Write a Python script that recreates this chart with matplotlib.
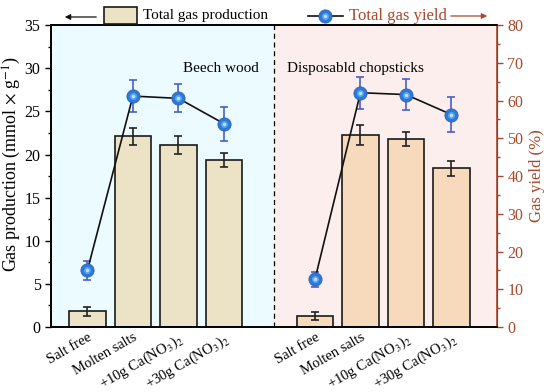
import matplotlib
matplotlib.use("Agg")
import matplotlib.pyplot as plt
import matplotlib.transforms as mtransforms
from matplotlib.patches import Rectangle
from matplotlib.lines import Line2D
from matplotlib.ticker import MultipleLocator

plt.rcParams['font.family'] = ['Liberation Serif', 'DejaVu Serif']
plt.rcParams['mathtext.fontset'] = 'stix'

# data
labels = ['Salt free', 'Molten salts', '+10g Ca(NO$_3$)$_2$', '+30g Ca(NO$_3$)$_2$']
pos_beech = [1, 2, 3, 4]
pos_chop = [6, 7, 8, 9]
prod_beech = [1.8, 22.1, 21.1, 19.4]
prod_beech_err = [0.55, 0.95, 1.0, 0.8]
prod_chop = [1.25, 22.25, 21.8, 18.4]
prod_chop_err = [0.45, 1.15, 0.8, 0.9]
yield_beech = [15.0, 61.2, 60.6, 53.9]
yield_beech_err = [2.6, 4.2, 3.7, 4.5]
yield_chop = [12.6, 62.1, 61.6, 56.3]
yield_chop_err = [2.0, 4.2, 4.2, 4.6]

brown = '#a8482c'
beige = '#ece3c6'
peach = '#f7d9bb'

fig = plt.figure(figsize=(5.5, 3.92), dpi=100)
ax = fig.add_axes([0.0927, 0.1658, 0.8109, 0.770])
ax2 = ax.twinx()

ax.set_xlim(0.2, 10.0)
ax.axvspan(0.2, 5.1, color='#ebfbff', zorder=0)
ax.axvspan(5.1, 10.0, color='#fdeeee', zorder=0)
ax.axvline(5.1, color='black', ls=(0, (4, 3)), lw=0.9, zorder=1)

ebar = dict(ecolor='#222222', elinewidth=1.2, capsize=3, capthick=1.2)
ax.bar(pos_beech, prod_beech, 0.8, yerr=prod_beech_err, color=beige,
       edgecolor='#1a1a1a', linewidth=1.2, error_kw=ebar, zorder=2)
ax.bar(pos_chop, prod_chop, 0.8, yerr=prod_chop_err, color=peach,
       edgecolor='#1a1a1a', linewidth=1.2, error_kw=ebar, zorder=2)

ax.set_ylim(0, 35)
ax.yaxis.set_major_locator(MultipleLocator(5))
ax.yaxis.set_minor_locator(MultipleLocator(2.5))
ax.set_ylabel('Gas production (mmol $\\times$ g$^{-1}$)', fontsize=13)
ax.yaxis.set_label_coords(-0.062, 0.54)
ax.set_xticks(pos_beech + pos_chop)
ax.set_xticklabels(labels + labels, rotation=30, ha='right', rotation_mode='anchor', fontsize=10.5)
shift = mtransforms.ScaledTranslation(10 / 72, 0, fig.dpi_scale_trans)
for t in ax.get_xticklabels():
    t.set_transform(t.get_transform() + shift)
ax.tick_params(axis='x', length=0, pad=3)
ax.tick_params(axis='y', which='major', direction='out', length=4, width=1, labelsize=11.5)
ax.tick_params(axis='y', which='minor', direction='out', length=2, width=1)

for pos, vals, errs in [(pos_beech, yield_beech, yield_beech_err), (pos_chop, yield_chop, yield_chop_err)]:
    ax2.errorbar(pos, vals, yerr=errs, fmt='none', ecolor='#4b5fc4', elinewidth=1.2,
                 capsize=3, capthick=1.2, zorder=3)
    ax2.plot(pos, vals, color='#111111', lw=1.2, zorder=4)
    ax2.plot(pos, vals, 'o', ms=9.5, mfc='#2f78d6', mec='#2a64bd', mew=0.6, zorder=5)
    ax2.plot(pos, vals, 'o', ms=5, mfc='#5aa5ea', mec='none', zorder=6)
    ax2.plot(pos, vals, 'o', ms=2.5, mfc='#b5e0fb', mec='none', zorder=7)

ax2.set_ylim(0, 80)
ax2.yaxis.set_major_locator(MultipleLocator(10))
ax2.yaxis.set_minor_locator(MultipleLocator(5))
ax2.set_ylabel('Gas yield (%)', color=brown, fontsize=12, labelpad=4)
ax2.tick_params(axis='y', which='major', direction='out', length=4, width=1,
                colors=brown, labelsize=11.5)
ax2.tick_params(axis='y', which='minor', direction='out', length=2, width=1, colors=brown)
ax2.spines['right'].set_color(brown)
ax2.spines['right'].set_linewidth(1.2)
for s in ['left', 'top', 'bottom']:
    ax.spines[s].set_linewidth(1.2)
    ax2.spines[s].set_linewidth(1.2)

ax.text(3.93, 30.0, 'Beech wood', ha='center', va='center', fontsize=11, zorder=6)
ax.text(6.9, 30.0, 'Disposabld chopsticks', ha='center', va='center', fontsize=11, zorder=6)

# legend drawn above the axes
fig.patches.append(Rectangle((104 / 550, 1 - 24 / 392), 33 / 550, 17 / 392,
                             transform=fig.transFigure, facecolor=beige,
                             edgecolor='#1a1a1a', lw=1.2))
fig.text(143 / 550, 1 - 16 / 392, 'Total gas production', fontsize=11, va='center')
fig.add_artist(Line2D([308 / 550, 343 / 550], [1 - 16 / 392] * 2, transform=fig.transFigure,
                      color='#111111', lw=1.2))
fig.add_artist(Line2D([325 / 550], [1 - 16 / 392], transform=fig.transFigure, marker='o',
                      ms=9.5, mfc='#2f78d6', mec='#2a64bd', mew=0.6))
fig.add_artist(Line2D([325 / 550], [1 - 16 / 392], transform=fig.transFigure, marker='o',
                      ms=5, mfc='#5aa5ea', mec='none'))
fig.add_artist(Line2D([325 / 550], [1 - 16 / 392], transform=fig.transFigure, marker='o',
                      ms=2.5, mfc='#b5e0fb', mec='none'))
fig.text(349 / 550, 1 - 16 / 392, 'Total gas yield', fontsize=12, va='center', color=brown)
ax.annotate('', xy=(62 / 550, 1 - 17 / 392), xytext=(99 / 550, 1 - 17 / 392),
            xycoords='figure fraction', textcoords='figure fraction',
            arrowprops=dict(arrowstyle='-|>', color='#111111', lw=0.9, mutation_scale=8))
ax.annotate('', xy=(490 / 550, 1 - 16 / 392), xytext=(448 / 550, 1 - 16 / 392),
            xycoords='figure fraction', textcoords='figure fraction',
            arrowprops=dict(arrowstyle='-|>', color=brown, lw=0.9, mutation_scale=8))

fig.savefig('out.png', dpi=100)
